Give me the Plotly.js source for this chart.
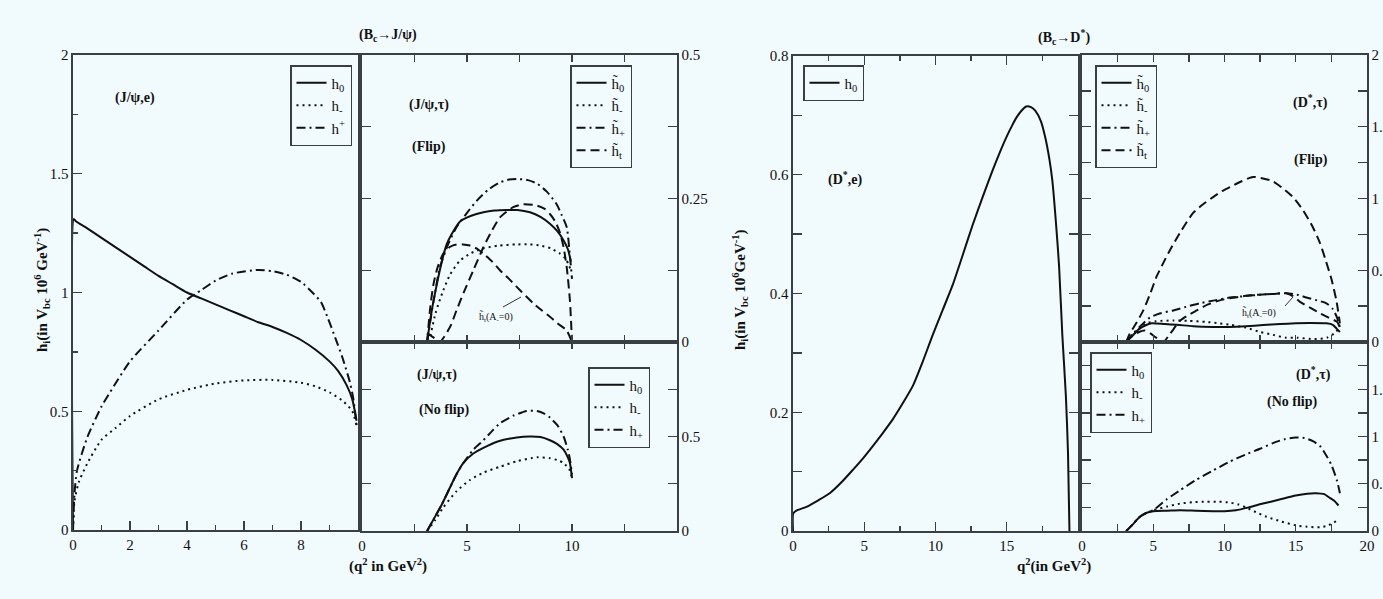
<!DOCTYPE html>
<html><head><meta charset="utf-8">
<script src="https://cdn.plot.ly/plotly-3.0.1.min.js"></script>
<style>html,body{margin:0;padding:0;background:#f1fafc;}#chart{width:1383px;height:599px;}</style>
</head><body><div id="chart"></div>
<script>
// ---- Panel A: (J/psi, e) ----
const qA_h0 = [0, 0.03, 0.1, 0.5, 1, 1.5, 2, 2.5, 3, 3.5, 4, 4.5, 5, 5.5, 6, 6.5, 7, 7.5, 8, 8.5, 9, 9.3, 9.6, 9.8, 9.95];
const hA_h0 = [0, 1.31, 1.30, 1.27, 1.23, 1.19, 1.15, 1.11, 1.07, 1.035, 1.0, 0.975, 0.95, 0.925, 0.90, 0.875, 0.855, 0.83, 0.80, 0.76, 0.71, 0.67, 0.61, 0.55, 0.46];
const qA_hm = [0, 0.05, 0.2, 0.5, 1, 1.5, 2, 3, 4, 5, 6, 7, 8, 8.5, 9, 9.5, 9.8, 9.95];
const hA_hm = [0, 0.12, 0.2, 0.28, 0.38, 0.43, 0.48, 0.55, 0.59, 0.617, 0.63, 0.632, 0.62, 0.605, 0.58, 0.54, 0.5, 0.44];
const qA_hp = [0, 0.05, 0.14, 0.5, 1, 1.3, 2, 3, 4, 4.5, 5, 5.6, 6.5, 7, 7.5, 8, 8.4, 8.7, 8.95, 9.2, 9.47, 9.72, 9.84, 9.96];
const hA_hp = [0, 0.15, 0.25, 0.39, 0.52, 0.58, 0.71, 0.84, 0.97, 1.01, 1.05, 1.08, 1.095, 1.09, 1.075, 1.045, 1.0, 0.96, 0.89, 0.81, 0.72, 0.62, 0.55, 0.43];

// ---- Panel B: (J/psi, tau) Flip ----
const qB_h0 = [3.1, 3.3, 3.56, 3.8, 4.03, 4.3, 4.67, 5.2, 5.78, 6.3, 6.9, 7.4, 8.0, 8.5, 8.95, 9.3, 9.6, 9.8, 9.95];
const hB_h0 = [0, 0.05, 0.10, 0.14, 0.17, 0.19, 0.21, 0.22, 0.226, 0.229, 0.23, 0.23, 0.226, 0.218, 0.206, 0.193, 0.177, 0.162, 0.14];
const qB_hm = [3.2, 3.5, 3.87, 4.2, 4.67, 5.2, 5.78, 6.5, 7.37, 8.0, 8.5, 9.0, 9.43, 9.7, 9.95];
const hB_hm = [0, 0.05, 0.09, 0.118, 0.142, 0.155, 0.163, 0.168, 0.17, 0.17, 0.168, 0.163, 0.154, 0.145, 0.125];
const qB_hp = [3.1, 3.4, 3.71, 4.1, 4.5, 5.0, 5.46, 6.0, 6.57, 7.0, 7.37, 7.9, 8.33, 8.8, 9.27, 9.5, 9.75, 9.9, 10.0];
const hB_hp = [0, 0.07, 0.13, 0.17, 0.20, 0.225, 0.246, 0.265, 0.278, 0.283, 0.284, 0.282, 0.276, 0.262, 0.24, 0.222, 0.20, 0.15, 0.11];
const qB_ht = [3.1, 3.4, 3.7, 4.19, 4.5, 4.83, 5.3, 5.78, 6.2, 6.57, 7.2, 7.68, 8.3, 8.7, 8.95, 9.2, 9.43, 9.6, 9.75, 9.9, 10.0];
const hB_ht = [0.015, 0.008, 0, 0.026, 0.055, 0.085, 0.125, 0.165, 0.195, 0.217, 0.235, 0.24, 0.238, 0.232, 0.223, 0.21, 0.19, 0.165, 0.13, 0.073, 0];
const qB_htA = [3.1, 3.25, 3.4, 3.6, 3.87, 4.2, 4.5, 4.8, 5.14, 5.5, 5.78, 6.2, 6.57, 7.0, 7.37, 7.8, 8.17, 8.6, 8.95, 9.4, 9.75, 10.0];
const hB_htA = [0, 0.06, 0.10, 0.13, 0.154, 0.166, 0.17, 0.17, 0.168, 0.162, 0.154, 0.14, 0.125, 0.11, 0.096, 0.08, 0.067, 0.054, 0.044, 0.03, 0.02, 0];

// ---- Panel C: (J/psi, tau) No flip ----
const qC_h0 = [3.1, 3.5, 3.8, 4.19, 4.5, 4.83, 5.3, 5.78, 6.5, 7.37, 8.0, 8.5, 8.95, 9.3, 9.6, 9.8, 9.9, 10.0];
const hC_h0 = [0, 0.08, 0.14, 0.23, 0.30, 0.36, 0.41, 0.44, 0.475, 0.495, 0.50, 0.497, 0.48, 0.46, 0.43, 0.39, 0.36, 0.28];
const qC_hm = [3.1, 3.5, 3.87, 4.5, 5.14, 5.8, 6.57, 7.4, 8.33, 8.95, 9.3, 9.6, 9.9, 10.0];
const hC_hm = [0, 0.06, 0.125, 0.21, 0.27, 0.31, 0.34, 0.37, 0.39, 0.385, 0.375, 0.36, 0.32, 0.28];
const qC_hp = [3.1, 3.5, 3.8, 4.19, 4.5, 4.83, 5.3, 5.78, 6.2, 6.57, 7.2, 7.84, 8.33, 8.7, 8.95, 9.3, 9.6, 9.8, 9.9, 10.0];
const hC_hp = [0, 0.08, 0.14, 0.23, 0.30, 0.36, 0.43, 0.48, 0.53, 0.57, 0.61, 0.635, 0.635, 0.62, 0.60, 0.56, 0.50, 0.43, 0.38, 0.30];

// ---- Panel D: (D*, e) ----
const qD_h0 = [0, 0.02, 0.3, 0.98, 1.8, 2.6, 3.4, 4.2, 4.9, 5.6, 6.3, 7.0, 7.7, 8.4, 9.1, 9.8, 10.5, 11.2, 11.9, 12.6, 13.3, 14.0, 14.5, 14.97, 15.4, 15.7, 16.0, 16.36, 16.7, 17.0, 17.4, 17.7, 18.0, 18.2, 18.45, 18.67, 18.9, 19.15, 19.3, 19.4];
const hD_h0 = [0, 0.03, 0.035, 0.041, 0.052, 0.064, 0.082, 0.103, 0.122, 0.143, 0.165, 0.188, 0.215, 0.244, 0.285, 0.33, 0.372, 0.414, 0.464, 0.515, 0.562, 0.607, 0.637, 0.663, 0.684, 0.697, 0.707, 0.715, 0.714, 0.708, 0.69, 0.663, 0.625, 0.59, 0.52, 0.447, 0.33, 0.227, 0.13, 0];

// ---- Panel E: (D*, tau) Flip ----
const qE_h0 = [3.1, 3.5, 4.0, 4.55, 4.9, 5.8, 6.65, 7.8, 9.2, 10.3, 11.5, 12.7, 13.9, 15.0, 16.0, 17.15, 17.6, 17.9, 18.1];
const hE_h0 = [0, 0.04, 0.09, 0.12, 0.13, 0.125, 0.12, 0.11, 0.105, 0.105, 0.11, 0.118, 0.125, 0.13, 0.132, 0.13, 0.12, 0.09, 0.07];
const qE_hm = [3.1, 3.5, 4.0, 4.5, 5.2, 6.4, 7.5, 8.7, 9.6, 10.4, 11.5, 12.5, 13.4, 14.3, 15.1, 16.3, 17.2, 17.7, 18.0];
const hE_hm = [0, 0.04, 0.09, 0.13, 0.145, 0.15, 0.147, 0.14, 0.13, 0.12, 0.10, 0.07, 0.05, 0.03, 0.03, 0.02, 0.03, 0.06, 0.09];
const qE_hp = [3.1, 3.6, 4.2, 4.76, 5.5, 6.4, 7.3, 8.27, 9.3, 10.37, 11.5, 12.5, 13.4, 14.35, 15.1, 15.75, 16.5, 17.15, 17.6, 17.9, 18.1];
const hE_hp = [0, 0.06, 0.12, 0.17, 0.20, 0.22, 0.245, 0.27, 0.29, 0.31, 0.32, 0.33, 0.335, 0.34, 0.33, 0.31, 0.29, 0.27, 0.23, 0.17, 0.10];
const qE_ht = [3.1, 3.36, 3.8, 4.3, 4.8, 5.23, 5.7, 6.17, 6.87, 7.8, 8.5, 9.2, 9.8, 10.4, 11.2, 12.0, 12.7, 13.4, 14.1, 14.8, 15.5, 16.2, 16.7, 17.1, 17.5, 17.85, 18.1];
const hE_ht = [0, 0.06, 0.13, 0.22, 0.34, 0.455, 0.55, 0.64, 0.76, 0.90, 0.96, 1.01, 1.05, 1.08, 1.12, 1.15, 1.14, 1.12, 1.07, 1.01, 0.92, 0.80, 0.69, 0.57, 0.44, 0.29, 0.13];
const qE_htA = [3.1, 3.5, 4.0, 4.4, 4.8, 5.2, 5.7, 6.2, 6.9, 7.5, 8.05, 8.8, 9.67, 10.4, 11.07, 11.8, 12.47, 13.4, 14.35, 14.8, 15.3, 16.0, 16.7, 17.3, 17.9, 18.1];
const hE_htA = [0, 0.04, 0.07, 0.08, 0.06, 0.03, 0, 0.06, 0.15, 0.19, 0.22, 0.26, 0.29, 0.305, 0.315, 0.325, 0.33, 0.335, 0.34, 0.32, 0.28, 0.24, 0.20, 0.17, 0.14, 0.10];

// ---- Panel F: (D*, tau) No flip ----
const qF_h0 = [3.1, 3.5, 4.06, 4.5, 5.0, 6.0, 6.87, 8.0, 9.2, 10.0, 10.8, 11.7, 12.7, 13.8, 15.0, 15.8, 16.4, 17.0, 17.3, 17.7, 18.0];
const hF_h0 = [0, 0.06, 0.15, 0.19, 0.21, 0.215, 0.22, 0.215, 0.21, 0.21, 0.22, 0.25, 0.29, 0.33, 0.375, 0.395, 0.40, 0.39, 0.36, 0.32, 0.27];
const qF_hm = [3.1, 3.5, 4.06, 4.5, 5.0, 6.0, 6.87, 7.8, 8.75, 9.6, 10.4, 11.0, 11.5, 12.2, 12.95, 14.0, 15.0, 15.8, 16.7, 17.3, 17.9];
const hF_hm = [0, 0.06, 0.15, 0.19, 0.22, 0.26, 0.29, 0.305, 0.31, 0.31, 0.30, 0.28, 0.25, 0.20, 0.15, 0.10, 0.06, 0.045, 0.04, 0.06, 0.11];
const qF_hp = [3.1, 3.5, 4.06, 4.5, 5.0, 5.9, 6.87, 8.0, 9.2, 10.3, 11.5, 12.5, 13.4, 14.2, 15.0, 15.6, 16.2, 16.7, 17.1, 17.5, 17.9, 18.1];
const hF_hp = [0, 0.06, 0.15, 0.19, 0.22, 0.33, 0.43, 0.54, 0.64, 0.73, 0.81, 0.87, 0.93, 0.97, 0.99, 0.985, 0.95, 0.90, 0.81, 0.70, 0.53, 0.40];

// legend labels
const labPlain = ['h<sub>0</sub>', 'h<sub>-</sub>', 'h<sub>+</sub>'];
const labA = ['h<sub>0</sub>', 'h<sub>-</sub>', 'h<sup>+</sup>'];
const labTilde = ['h\u0303<sub>0</sub>', 'h\u0303<sub>-</sub>', 'h\u0303<sub>+</sub>', 'h\u0303<sub>t</sub>'];

const W = 1383, H = 599;
const SOLID = 'solid', DOT = '2px,4px', DASHDOT = '9px,4px,2px,4px', DASH = '9px,5px';
function tr(x, y, name, dash, xa, ya, leg, show) {
  return {x: x, y: y, name: name, type: 'scatter', mode: 'lines',
    line: {color: '#111', width: 2, dash: dash, shape: 'spline', smoothing: 0.6},
    xaxis: xa, yaxis: ya, legend: leg, showlegend: show !== false, hoverinfo: 'skip'};
}
const data = [
  tr(qA_h0, hA_h0, labA[0], SOLID, 'x', 'y', 'legend'),
  tr(qA_hm, hA_hm, labA[1], DOT, 'x', 'y', 'legend'),
  tr(qA_hp, hA_hp, labA[2], DASHDOT, 'x', 'y', 'legend'),
  tr(qB_h0, hB_h0, labTilde[0], SOLID, 'x2', 'y2', 'legend2'),
  tr(qB_hm, hB_hm, labTilde[1], DOT, 'x2', 'y2', 'legend2'),
  tr(qB_hp, hB_hp, labTilde[2], DASHDOT, 'x2', 'y2', 'legend2'),
  tr(qB_ht, hB_ht, labTilde[3], DASH, 'x2', 'y2', 'legend2'),
  tr(qB_htA, hB_htA, 'A0', DASH, 'x2', 'y2', 'legend2', false),
  tr(qC_h0, hC_h0, labPlain[0], SOLID, 'x3', 'y3', 'legend3'),
  tr(qC_hm, hC_hm, labPlain[1], DOT, 'x3', 'y3', 'legend3'),
  tr(qC_hp, hC_hp, labPlain[2], DASHDOT, 'x3', 'y3', 'legend3'),
  tr(qD_h0, hD_h0, labPlain[0], SOLID, 'x4', 'y4', 'legend4'),
  tr(qE_h0, hE_h0, labTilde[0], SOLID, 'x5', 'y5', 'legend5'),
  tr(qE_hm, hE_hm, labTilde[1], DOT, 'x5', 'y5', 'legend5'),
  tr(qE_hp, hE_hp, labTilde[2], DASHDOT, 'x5', 'y5', 'legend5'),
  tr(qE_ht, hE_ht, labTilde[3], DASH, 'x5', 'y5', 'legend5'),
  tr(qE_htA, hE_htA, 'A0', DASH, 'x5', 'y5', 'legend5', false),
  tr(qF_h0, hF_h0, labPlain[0], SOLID, 'x6', 'y6', 'legend6'),
  tr(qF_hm, hF_hm, labPlain[1], DOT, 'x6', 'y6', 'legend6'),
  tr(qF_hp, hF_hp, labPlain[2], DASHDOT, 'x6', 'y6', 'legend6')
];

const FONT = 'Liberation Serif, Times New Roman, serif';
const px = v => v / W, py = v => 1 - v / H;
const LC = '#3a3f44';
function ax(o) {
  return Object.assign({showline: true, linecolor: LC, linewidth: 1.6, ticks: 'inside', ticklen: 9,
    tickwidth: 1.4, tickcolor: LC, showgrid: false, zeroline: false, fixedrange: true,
    tickfont: {family: FONT, size: 15, color: '#111'}}, o);
}
const xA = [px(73), px(358)], xB = [px(362), px(677)], xD = [px(793), px(1078)], xE = [px(1082), px(1367)];
const yFull = [py(530), py(55)], yTop = [py(342), py(55)], yBot = [py(531), py(342)];

function legend(l, t) {
  return {x: px(l), y: py(t), xanchor: 'left', yanchor: 'top', bgcolor: 'rgba(0,0,0,0)',
    bordercolor: LC, borderwidth: 1.5, font: {family: FONT, size: 15, color: '#111'},
    itemwidth: 30, tracegroupgap: 0};
}
function ann(x, y, text, size, extra) {
  return Object.assign({xref: 'paper', yref: 'paper', x: px(x), y: py(y), text: text, showarrow: false,
    font: {family: FONT, size: size || 13, color: '#111'}}, extra || {});
}

const layout = {
  width: W, height: H, margin: {l: 0, r: 0, t: 0, b: 0},
  paper_bgcolor: '#f1fafc', plot_bgcolor: '#f1fafc', showlegend: true,
  xaxis: ax({domain: xA, range: [0, 10], anchor: 'y', mirror: true, tickmode: 'array',
    tickvals: [0, 2, 4, 6, 8, 10], ticktext: ['0', '2', '4', '6', '8', ''],
    minor: {tickmode: 'array', tickvals: [1, 3, 5, 7, 9], ticklen: 5, ticks: 'inside', tickcolor: LC}}),
  yaxis: ax({domain: yFull, range: [0, 2], anchor: 'x', mirror: true, tickmode: 'array',
    tickvals: [0, 0.5, 1, 1.5, 2], ticktext: ['0', '0.5', '1', '1.5', '2'],
    minor: {tickmode: 'array', tickvals: [0.25, 0.75, 1.25, 1.75], ticklen: 5, ticks: 'inside', tickcolor: LC}}),
  xaxis2: ax({domain: xB, range: [0, 15], anchor: 'y2', mirror: 'ticks', showticklabels: false,
    tickmode: 'array', tickvals: [0, 2.5, 5, 7.5, 10, 12.5, 15], ticklen: 7}),
  yaxis2: ax({domain: yTop, range: [0, 0.5], anchor: 'x2', side: 'right', mirror: 'ticks', tickmode: 'array',
    tickvals: [0, 0.25, 0.5], ticktext: ['0', '0.25', '0.5'],
    minor: {tickmode: 'array', tickvals: [0.125, 0.375], ticklen: 9, ticks: 'inside', tickcolor: LC}}),
  xaxis3: ax({domain: xB, range: [0, 15], anchor: 'y3', mirror: 'ticks', tickmode: 'array',
    tickvals: [0, 2.5, 5, 7.5, 10, 12.5, 15], ticktext: ['0', '', '5', '', '10', '', ''], ticklen: 7}),
  yaxis3: ax({domain: yBot, range: [0, 1], anchor: 'x3', side: 'right', mirror: 'ticks', tickmode: 'array',
    tickvals: [0, 0.25, 0.5, 0.75, 1], ticktext: ['0', '', '0.5', '', '']}),
  xaxis4: ax({domain: xD, range: [0, 20], anchor: 'y4', mirror: 'ticks', tickmode: 'array',
    tickvals: [0, 5, 10, 15, 20], ticktext: ['0', '5', '10', '15', ''],
    minor: {tickmode: 'array', tickvals: [2.5, 7.5, 12.5, 17.5], ticklen: 5, ticks: 'inside', tickcolor: LC}}),
  yaxis4: ax({domain: [py(531), py(56)], range: [0, 0.8], anchor: 'x4', mirror: 'ticks', tickmode: 'array',
    tickvals: [0, 0.2, 0.4, 0.6, 0.8], ticktext: ['0', '0.2', '0.4', '0.6', '0.8'],
    minor: {tickmode: 'array', tickvals: [0.1, 0.3, 0.5, 0.7], ticklen: 9, ticks: 'inside', tickcolor: LC}}),
  xaxis5: ax({domain: xE, range: [0, 20], anchor: 'y5', mirror: 'ticks', showticklabels: false,
    tickmode: 'array', tickvals: [0, 2.5, 5, 7.5, 10, 12.5, 15, 17.5, 20], ticklen: 7}),
  yaxis5: ax({domain: yTop, range: [0, 2], anchor: 'x5', side: 'right', mirror: 'ticks', tickmode: 'array',
    tickvals: [0, 0.25, 0.5, 0.75, 1, 1.25, 1.5, 1.75, 2], ticktext: ['0', '', '0.5', '', '1', '', '1.5', '', '2']}),
  xaxis6: ax({domain: xE, range: [0, 20], anchor: 'y6', mirror: 'ticks', tickmode: 'array',
    tickvals: [0, 2.5, 5, 7.5, 10, 12.5, 15, 17.5, 20], ticktext: ['0', '', '5', '', '10', '', '15', '', '20'], ticklen: 7}),
  yaxis6: ax({domain: yBot, range: [0, 2], anchor: 'x6', side: 'right', mirror: 'ticks', tickmode: 'array',
    tickvals: [0, 0.25, 0.5, 0.75, 1, 1.25, 1.5, 1.75, 2], ticktext: ['0', '', '0.5', '', '1', '', '1.5', '', '']}),
  legend: legend(290, 65),
  legend2: legend(570, 65),
  legend3: legend(588, 367),
  legend4: legend(803, 65),
  legend5: legend(1095, 65),
  legend6: legend(1090, 352),
  annotations: [
    ann(357, 25, '<b>(B<sub>c</sub>→J/ψ)</b>', 14),
    ann(1092, 25, '<b>(B<sub>c</sub>→D<sup>*</sup>)</b>', 14),
    ann(347, 577, '<b>(q<sup>2</sup> in GeV<sup>2</sup>)</b>', 15),
    ann(1093, 577, '<b>q<sup>2</sup>(in GeV<sup>2</sup>)</b>', 15),
    ann(30, 290, '<b>h<sub>i</sub>(in V<sub>bc</sub> 10<sup>6</sup> GeV<sup>-1</sup>)</b>', 15, {textangle: -90}),
    ann(740, 290, '<b>h<sub>i</sub>(in V<sub>bc</sub> 10<sup>6</sup>GeV<sup>-1</sup>)</b>', 15, {textangle: -90}),
    ann(113, 88, '<b>(J/ψ,e)</b>', 14),
    ann(407, 95, '<b>(J/ψ,τ)</b>', 14),
    ann(410, 137, '<b>(Flip)</b>', 14),
    ann(415, 375, '<b>(J/ψ,τ)</b>', 14),
    ann(417, 420, '<b>(No flip)</b>', 14),
    ann(845, 167, '<b>(D<sup>*</sup>,e)</b>', 14),
    ann(1330, 90, '<b>(D<sup>*</sup>,τ)</b>', 14),
    ann(1330, 150, '<b>(Flip)</b>', 14),
    ann(1333, 373, '<b>(D<sup>*</sup>,τ)</b>', 14),
    ann(1320, 412, '<b>(No flip)</b>', 14),
    ann(496, 317, 'h\u0303<sub>t</sub>(A<sub>-</sub>=0)', 10),
    ann(1278, 313, 'h\u0303<sub>t</sub>(A<sub>-</sub>=0)', 10)
  ],
  shapes: [
    {type: 'line', xref: 'paper', yref: 'paper', x0: px(503), y0: py(307), x1: px(521), y1: py(297), line: {color: '#333', width: 1}},
    {type: 'line', xref: 'paper', yref: 'paper', x0: px(1285), y0: py(306), x1: px(1293), y1: py(297), line: {color: '#333', width: 1}}
  ]
};
Plotly.newPlot('chart', data, layout, {staticPlot: true});
</script></body></html>
